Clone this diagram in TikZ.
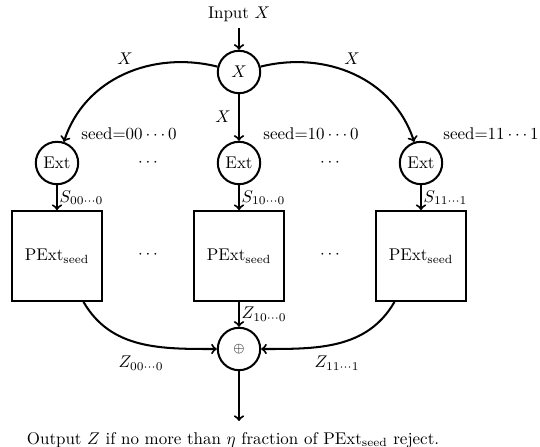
\documentclass[tikz,border=0pt]{standalone}
\begin{document}
\begin{tikzpicture}[x=0.59pt, y=-0.59pt, very thick,
  circ/.style={draw, circle, minimum size=25pt, inner sep=0pt},
  pbox/.style={draw, rectangle, minimum size=53pt, inner sep=0pt},
  lab/.style={inner sep=1pt}]
\useasboundingbox (0,0) rectangle (540,447);
% nodes
\node (in) at (239,14) {Input $X$};
\node[circ] (X) at (239,72) {$X$};
\node[circ] (e1) at (57,163) {Ext};
\node[circ] (e2) at (239,163) {Ext};
\node[circ] (e3) at (421,163) {Ext};
\node[pbox] (b1) at (57,256) {$\mathrm{PExt}_{\mathrm{seed}}$};
\node[pbox] (b2) at (239,256) {$\mathrm{PExt}_{\mathrm{seed}}$};
\node[pbox] (b3) at (421,256) {$\mathrm{PExt}_{\mathrm{seed}}$};
\node[circ] (xor) at (239,349) {\footnotesize$\oplus$};
\coordinate (o) at (239,421);
\node (outtxt) at (233,440) {Output $Z$ if no more than $\eta$ fraction of $\mathrm{PExt}_{\mathrm{seed}}$ reject.};
% connectors
\draw[->] (in) -- (X);
\draw[->] (X) to[out=166,in=72] (e1);
\draw[->] (X) -- (e2);
\draw[->] (X) to[out=14,in=108] (e3);
\draw[->] (e1) -- node[right,lab] {$S_{00\cdots0}$} (b1);
\draw[->] (e2) -- node[right,lab] {$S_{10\cdots0}$} (b2);
\draw[->] (e3) -- node[right,lab] {$S_{11\cdots1}$} (b3);
\draw[->] (b1) to[out=-60,in=180] (xor);
\draw[->] (b2) -- node[right,lab] {$Z_{10\cdots0}$} (xor);
\draw[->] (b3) to[out=240,in=0] (xor);
\draw[->] (xor) -- (o);
% labels
\node (lx1) at (125,59) {$X$};
\node (lx3) at (352,59) {$X$};
\node (lx2) at (223,117) {$X$};
\node (s1) at (129,134) {seed=$00\cdots0$};
\node (s2) at (311,134) {seed=$10\cdots0$};
\node (s3) at (491,134) {seed=$11\cdots1$};
\node (d1) at (148,163) {$\cdots$};
\node (d2) at (330,163) {$\cdots$};
\node (d3) at (148,255) {$\cdots$};
\node (d4) at (330,255) {$\cdots$};
\node (z1) at (141,363) {$Z_{00\cdots0}$};
\node (z3) at (337,363) {$Z_{11\cdots1}$};
\end{tikzpicture}
\end{document}
